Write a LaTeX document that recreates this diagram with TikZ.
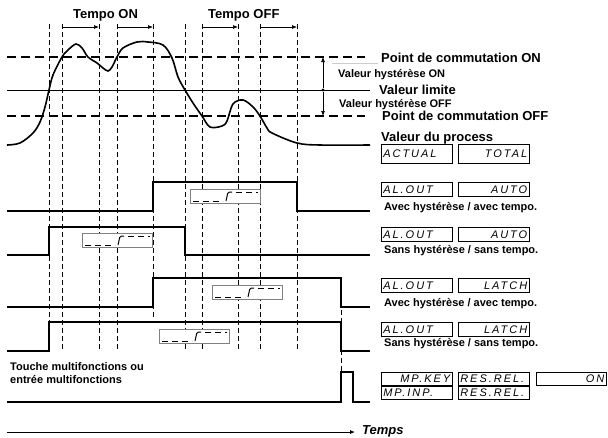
\documentclass[tikz,border=0pt]{standalone}
\usepackage{fontspec}
\setmainfont{Liberation Sans}
\newfontfamily\segfont[LetterSpace=18]{Liberation Sans}
\usetikzlibrary{arrows.meta}

\begin{document}
\begin{tikzpicture}[x=1pt,y=-1pt,
        sig/.style={line width=1.6pt},
        vline/.style={line width=0.7pt, dash pattern=on 5pt off 3pt},
        hline/.style={line width=1.3pt, dash pattern=on 9pt off 5pt},
        big/.style={font=\fontsize{13}{15}\selectfont\bfseries, inner sep=0pt, anchor=base west},
        small/.style={font=\fontsize{11}{13}\selectfont\bfseries, inner sep=0pt, anchor=base west},
        disp/.style={draw, line width=0.6pt, anchor=north west, text width=67pt, minimum height=14pt,
            inner xsep=2pt, inner ysep=0pt, font=\fontsize{11}{11}\selectfont\segfont\itshape},
        tbox/.style={draw=gray, fill=white, line width=0.9pt, anchor=north west,
            minimum width=70pt, minimum height=14pt, inner sep=0pt},
        tdash/.style={line width=1pt, dash pattern=on 6pt off 4pt},
        >={Latex[length=5pt,width=4pt]}]
    \useasboundingbox (0,0) rectangle (608,437);

    % Grille des instants
    \foreach \x in {49,62,99,117,185,202,238,260,297}
    \draw[vline] (\x,24) -- (\x,350);
    \draw[vline] (153,24) -- (153,317);
    \draw[vline] (341,278) -- (341,372);

    % Seuils
    \draw[hline] (7,57) -- (365,57);
    \draw[line width=0.8pt] (7,90) -- (370,90);
    \draw[hline] (7,116) -- (365,116);
    \draw[gray!40, line width=0.5pt] (332,63) -- (378,63);
    \coordinate (hon) at (323,57);
    \coordinate (hoff) at (323,116);
    \node[circle, fill, inner sep=1.2pt] (hlim) at (323,90) {};
    \draw[->, line width=0.7pt] (hlim) -- (hon);
    \draw[->, line width=0.7pt] (hlim) -- (hoff);

    \node[big] (pon) at (381,62) {Point de commutation ON};
    \node[small] (hyon) at (338,77) {Valeur hystérèse ON};
    \node[big] (lim) at (379,94) {Valeur limite};
    \node[small] (hyoff) at (339,107) {Valeur hystérèse OFF};
    \node[big] (poff) at (382,120) {Point de commutation OFF};

    % Tempos
    \node[big] (ton) at (73,18) {Tempo ON};
    \node[big] (toff) at (208,18) {Tempo OFF};
    \foreach \a/\b in {62/99, 117/153, 202/238, 260/297}
    {
    \coordinate (ta-\a) at (\a,27);
    \coordinate (tb-\a) at (\b,27);
    \draw[->, line width=0.7pt] (ta-\a) -- (tb-\a);
    }

    % Valeur du process
    \draw[sig] plot[smooth, tension=0.55] coordinates {
        (7,145) (20,143) (33,133) (40,122) (45,107) (49,90) (53,75) (62,57) (68,50)
        (76,44) (82,48) (88,57) (97,63) (103,68) (108,71) (112,67) (117,57) (123,48)
        (137,42) (148,42) (163,45) (172,58) (178,77) (185,90) (193,103) (202,116)
        (210,127) (222,126) (227,121) (233,104) (243,100) (253,107) (260,116) (267,128)
        (272,133) (297,143) (320,145) (370,145)};
    \node[big] (proc) at (381,141) {Valeur du process};
    \node[disp, align=left, minimum height=19pt] (d-act) at (381,144) {ACTUAL};
    \node[disp, align=right, minimum height=19pt] (d-tot) at (458,144) {TOTAL};

    % Sorties
    \draw[sig] (7,211) -- (153,211) -- (153,182) -- (297,182) -- (297,211) -- (370,211);
    \draw[sig] (7,255) -- (49,255) -- (49,227) -- (185,227) -- (185,255) -- (370,255);
    \draw[sig] (7,307) -- (153,307) -- (153,278) -- (341,278) -- (341,307) -- (370,307);
    \draw[sig] (7,351) -- (49,351) -- (49,322) -- (341,322) -- (341,351) -- (370,351);
    \draw[sig] (7,402) -- (341,402) -- (341,372) -- (353,372) -- (353,402) -- (370,402);

    \foreach \bx/\by [count=\i] in {190/189, 82/233, 212/285, 159/329}
    {
    \node[tbox] (tb\i) at (\bx,\by) {};
    \draw[tdash] ({\bx+3},{\by+12}) -- ({\bx+33},{\by+12});
    \draw[line width=1pt, rounded corners=1.5pt] ({\bx+36},{\by+12}) -- ({\bx+38},{\by+3}) -- ({\bx+42},{\by+3});
    \draw[tdash] ({\bx+46},{\by+3}) -- ({\bx+68},{\by+3});
    }

    \node[disp, align=left] (d-ao1) at (381,182) {AL.OUT};
    \node[disp, align=right] (d-au1) at (458,182) {AUTO};
    \node[small] (c1) at (384,210) {Avec hystérèse / avec tempo.};
    \node[disp, align=left] (d-ao2) at (381,227) {AL.OUT};
    \node[disp, align=right] (d-au2) at (458,227) {AUTO};
    \node[small] (c2) at (384,253) {Sans hystérèse / sans tempo.};
    \node[disp, align=left] (d-ao3) at (381,278) {AL.OUT};
    \node[disp, align=right] (d-la3) at (458,278) {LATCH};
    \node[small] (c3) at (384,306) {Avec hystérèse / avec tempo.};
    \node[disp, align=left] (d-ao4) at (381,322) {AL.OUT};
    \node[disp, align=right] (d-la4) at (458,322) {LATCH};
    \node[small] (c4) at (384,346) {Sans hystérèse / sans tempo.};

    % Touche / entree multifonctions
    \node[small, align=left, anchor=base west] (mf) at (10,383) {Touche multifonctions ou\\entrée multifonctions};
    \node[disp, align=right, minimum height=13pt] (d-mpk) at (381,372) {MP.KEY};
    \node[disp, align=left, minimum height=13pt] (d-rr1) at (458,372) {RES.REL.};
    \node[disp, align=right, minimum height=13pt, text width=66pt] (d-on) at (536,372) {ON};
    \node[disp, align=left, minimum height=13pt] (d-mpi) at (381,386) {MP.INP.};
    \node[disp, align=left, minimum height=13pt] (d-rr2) at (458,386) {RES.REL.};

    % Axe du temps
    \coordinate (t0) at (7,432);
    \coordinate (t1) at (355,432);
    \draw[->, line width=0.8pt] (t0) -- (t1);
    \node[big, font=\fontsize{13}{15}\selectfont\bfseries\itshape] (temps) at (362,434) {Temps};
\end{tikzpicture}
\end{document}
